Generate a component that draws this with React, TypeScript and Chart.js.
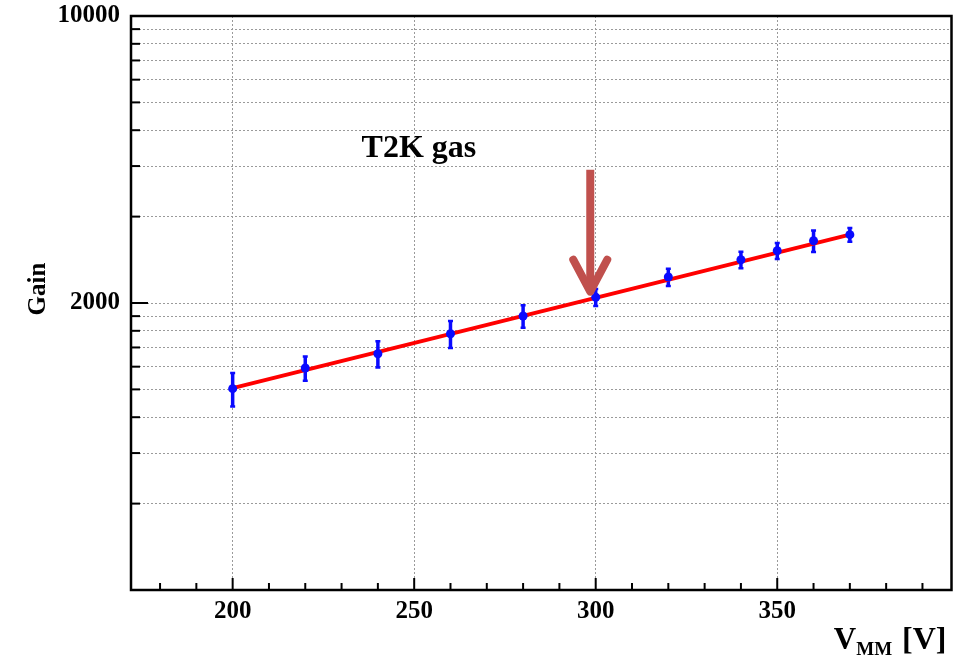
import React, { useEffect, useRef } from "react";
import { Chart, registerables } from "chart.js";

Chart.register(...registerables);

// ---- data ----
const voltages = [200, 220, 240, 260, 280, 300, 320, 340, 350, 360, 370];
const gains = [1006, 1187, 1331, 1563, 1802, 2095, 2464, 2830, 3042, 3296, 3460];
const gainErrors = [135, 116, 140, 168, 163, 144, 170, 187, 195, 284, 190];

const fitVoltages = [200, 370];
const fitGains = [1010, 3460];

const xMin = 172;
const xMax = 398;
const xTickValues = [180, 190, 200, 210, 220, 230, 240, 250, 260, 270, 280, 290, 300, 310, 320, 330, 340, 350, 360, 370, 380, 390];
const xLabelValues = [200, 250, 300, 350];

const yMin = 200;
const yMax = 20000;
const yGridValues = [400, 600, 800, 1000, 1200, 1400, 1600, 1800, 2000, 4000, 6000, 8000, 10000, 12000, 14000, 16000, 18000, 20000];
const yLabelValues = [2000, 20000];
const yLabelTexts = ["2000", "10000"];

const annotationText = "T2K gas";
const annotationAt = { x: 235.5, y: 6470 };
const arrowAt = { x: 298.5, from: 5830, to: 2190 };

const SERIF = "'Liberation Serif', 'Times New Roman', serif";

const overlayPlugin = {
  id: "rootStyle",
  beforeDatasetsDraw(chart: any) {
    const { ctx } = chart;
    const xs = chart.scales.x;
    const ys = chart.scales.y;
    ctx.save();
    ctx.strokeStyle = "#0a0aff";
    ctx.lineCap = "butt";
    for (let i = 0; i < voltages.length; i++) {
      const px = xs.getPixelForValue(voltages[i]);
      const y1 = ys.getPixelForValue(gains[i] - gainErrors[i]);
      const y2 = ys.getPixelForValue(gains[i] + gainErrors[i]);
      ctx.lineWidth = 3.5;
      ctx.beginPath();
      ctx.moveTo(px, y1);
      ctx.lineTo(px, y2);
      ctx.stroke();
      ctx.lineWidth = 2.5;
      ctx.beginPath();
      ctx.moveTo(px - 2.5, y1);
      ctx.lineTo(px + 2.5, y1);
      ctx.moveTo(px - 2.5, y2);
      ctx.lineTo(px + 2.5, y2);
      ctx.stroke();
    }
    ctx.restore();
  },
  afterDraw(chart: any) {
    const { ctx, chartArea } = chart;
    const xs = chart.scales.x;
    const ys = chart.scales.y;
    const { left, top, right, bottom } = chartArea;
    ctx.save();

    // inner tick marks
    ctx.strokeStyle = "#000";
    ctx.lineWidth = 2;
    xs.ticks.forEach((t: any) => {
      const px = xs.getPixelForValue(t.value);
      const len = xLabelValues.includes(t.value) ? 12 : 7;
      ctx.beginPath();
      ctx.moveTo(px, bottom);
      ctx.lineTo(px, bottom - len);
      ctx.stroke();
    });
    ys.ticks.forEach((t: any) => {
      const py = ys.getPixelForValue(t.value);
      const len = yLabelValues.includes(t.value) ? 17 : 9;
      ctx.beginPath();
      ctx.moveTo(left, py);
      ctx.lineTo(left + len, py);
      ctx.stroke();
    });

    // frame
    ctx.lineWidth = 2.5;
    ctx.strokeRect(left, top, right - left, bottom - top);

    // arrow
    const ax = xs.getPixelForValue(arrowAt.x);
    const ayTop = ys.getPixelForValue(arrowAt.from);
    const ayTip = ys.getPixelForValue(arrowAt.to);
    ctx.strokeStyle = "#c0504d";
    ctx.lineWidth = 8;
    ctx.lineCap = "butt";
    ctx.beginPath();
    ctx.moveTo(ax, ayTop);
    ctx.lineTo(ax, ayTip - 4);
    ctx.stroke();
    ctx.lineCap = "round";
    ctx.lineJoin = "round";
    ctx.beginPath();
    ctx.moveTo(ax - 17, ayTip - 32);
    ctx.lineTo(ax, ayTip);
    ctx.lineTo(ax + 17, ayTip - 32);
    ctx.stroke();

    // annotation text
    ctx.fillStyle = "#000";
    ctx.font = `bold 32px ${SERIF}`;
    ctx.textAlign = "left";
    ctx.textBaseline = "alphabetic";
    ctx.fillText(annotationText, xs.getPixelForValue(annotationAt.x), ys.getPixelForValue(annotationAt.y));

    // y title
    ctx.save();
    ctx.translate(39, 289);
    ctx.rotate(-Math.PI / 2);
    ctx.font = `bold 25px ${SERIF}`;
    ctx.textAlign = "center";
    ctx.textBaseline = "middle";
    ctx.fillText("Gain", 0, 0);
    ctx.restore();

    // x title: V_MM [V]
    ctx.textAlign = "right";
    ctx.textBaseline = "alphabetic";
    const baseY = 649;
    let xr = right - 5;
    ctx.font = `bold 32px ${SERIF}`;
    ctx.fillText("[V]", xr, baseY);
    xr -= ctx.measureText("[V]").width + 10;
    ctx.font = `bold 19px ${SERIF}`;
    ctx.fillText("MM", xr, baseY + 6);
    xr -= ctx.measureText("MM").width;
    ctx.font = `bold 31px ${SERIF}`;
    ctx.fillText("V", xr, baseY);

    ctx.restore();
  },
};

export default function App() {
  const canvasRef = useRef<HTMLCanvasElement | null>(null);

  useEffect(() => {
    const canvas = canvasRef.current;
    if (!canvas) return;
    const points = voltages.map((v, i) => ({ x: v, y: gains[i] }));
    const fit = fitVoltages.map((v, i) => ({ x: v, y: fitGains[i] }));
    const chart = new Chart(canvas, {
      type: "scatter",
      data: {
        datasets: [
          {
            label: "data",
            data: points,
            showLine: false,
            pointRadius: 4.5,
            pointBackgroundColor: "#0a0aff",
            pointBorderColor: "#0a0aff",
            pointBorderWidth: 0,
            order: 0,
          },
          {
            label: "fit",
            type: "line",
            data: fit,
            borderColor: "#ff0000",
            borderWidth: 4,
            pointRadius: 0,
            fill: false,
            order: 1,
          } as any,
        ],
      },
      options: {
        animation: false,
        responsive: false,
        devicePixelRatio: 1,
        layout: { padding: { left: 0, top: 16, right: 4, bottom: 0 } },
        plugins: { legend: { display: false }, tooltip: { enabled: false } },
        scales: {
          x: {
            type: "linear",
            min: xMin,
            max: xMax,
            afterBuildTicks: (scale: any) => {
              scale.ticks = xTickValues.map((v) => ({ value: v }));
            },
            afterFit: (scale: any) => {
              scale.height = 67;
              scale.paddingLeft = 0;
              scale.paddingRight = 0;
            },
            ticks: {
              autoSkip: false,
              maxRotation: 0,
              padding: 7,
              color: "#000",
              font: { family: SERIF, weight: "bold", size: 25 },
              callback: (value: any) => (xLabelValues.includes(Number(value)) ? String(value) : ""),
            },
            grid: {
              drawTicks: false,
              lineWidth: 1,
              color: (ctx: any) =>
                ctx.tick && xLabelValues.includes(ctx.tick.value) ? "#9a9a9a" : "rgba(0,0,0,0)",
            },
            border: { display: false, dash: [2, 2] },
          },
          y: {
            type: "logarithmic",
            min: yMin,
            max: yMax,
            afterBuildTicks: (scale: any) => {
              scale.ticks = yGridValues.map((v) => ({ value: v }));
            },
            afterFit: (scale: any) => {
              scale.width = 131;
              scale.paddingTop = 0;
              scale.paddingBottom = 0;
            },
            ticks: {
              autoSkip: false,
              padding: 11,
              color: "#000",
              font: { family: SERIF, weight: "bold", size: 25 },
              callback: (value: any) => {
                const idx = yLabelValues.indexOf(Number(value));
                return idx >= 0 ? yLabelTexts[idx] : "";
              },
            },
            grid: {
              drawTicks: false,
              lineWidth: 1,
              color: "#9a9a9a",
            },
            border: { display: false, dash: [2, 2] },
          },
        },
      },
      plugins: [overlayPlugin],
    } as any);
    return () => chart.destroy();
  }, []);

  return (
    <canvas
      ref={canvasRef}
      width={956}
      height={657}
      style={{ position: "fixed", left: 0, top: 0, display: "block", background: "#fff" }}
    />
  );
}
